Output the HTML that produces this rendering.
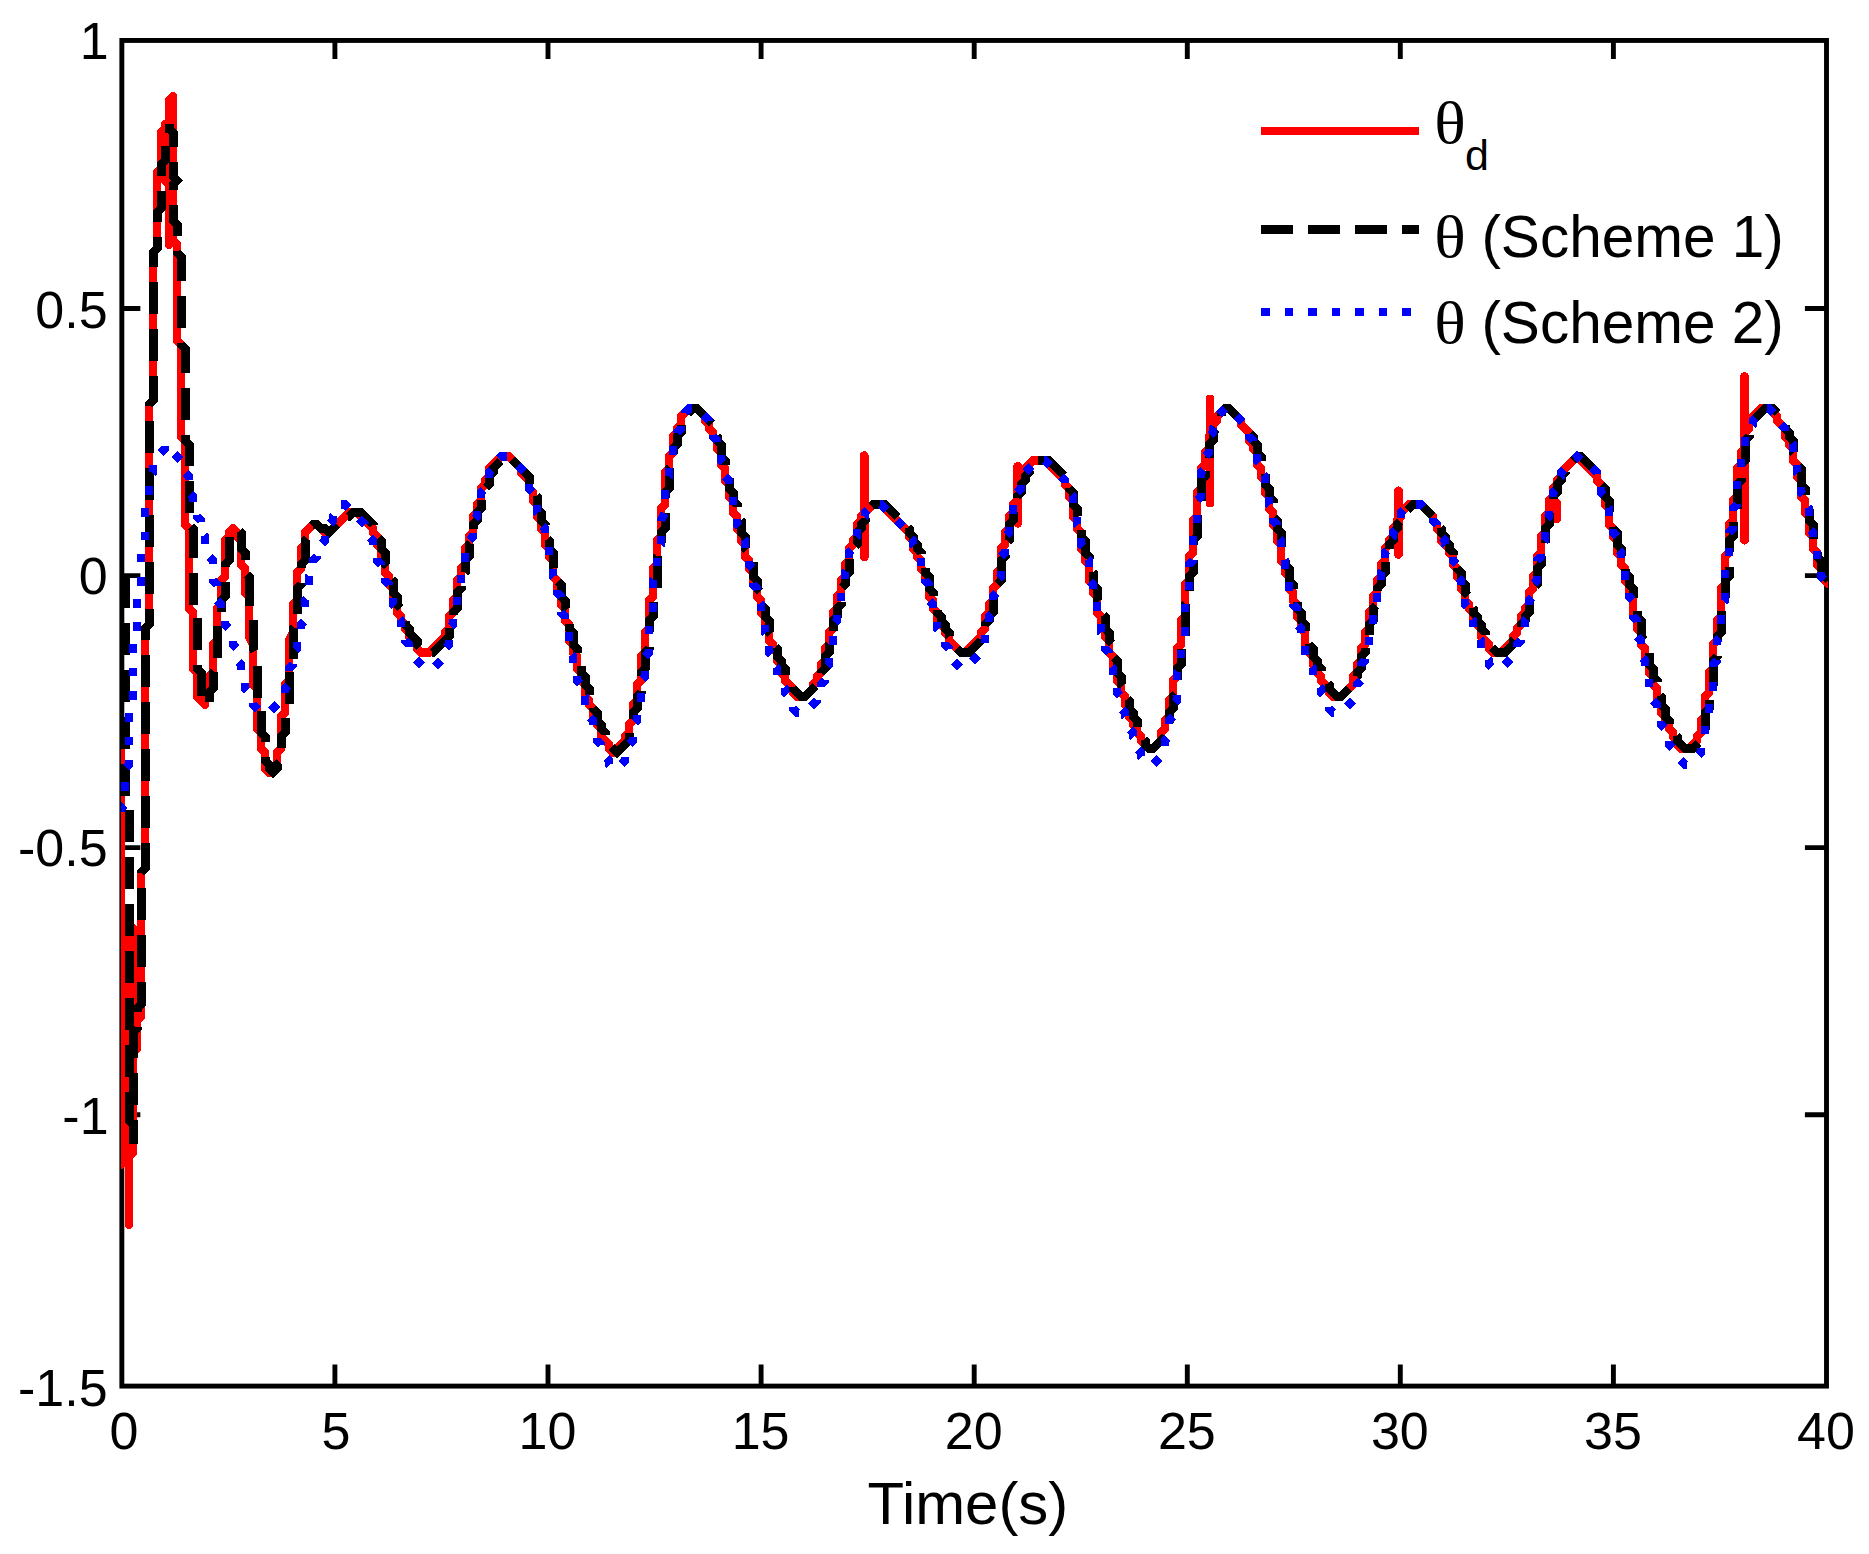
<!DOCTYPE html>
<html lang="en">
<head>
<meta charset="utf-8">
<title>Tracking performance</title>
<style>
html,body{margin:0;padding:0;background:#fff;}
body{width:1869px;height:1554px;overflow:hidden;}
svg{display:block;}
</style>
</head>
<body>
<svg width="1869" height="1554" viewBox="0 0 1869 1554">
<rect width="1869" height="1554" fill="#fff"/>
<defs><clipPath id="ax"><rect x="121" y="38" width="1707" height="1350"/></clipPath></defs>
<g stroke="#000" stroke-width="4.9" fill="none" stroke-linecap="butt">
<rect x="121.85" y="40.45" width="1704.65" height="1345.65"/>
<path d="M334.9,1386.1 V1364.5 M334.9,40.45 V59.05"/>
<path d="M548.0,1386.1 V1364.5 M548.0,40.45 V59.05"/>
<path d="M761.1,1386.1 V1364.5 M761.1,40.45 V59.05"/>
<path d="M974.2,1386.1 V1364.5 M974.2,40.45 V59.05"/>
<path d="M1187.3,1386.1 V1364.5 M1187.3,40.45 V59.05"/>
<path d="M1400.3,1386.1 V1364.5 M1400.3,40.45 V59.05"/>
<path d="M1613.4,1386.1 V1364.5 M1613.4,40.45 V59.05"/>
<path d="M121.85,308.5 H140.35 M1826.5,308.5 H1804.9"/>
<path d="M121.85,575.6 H140.35 M1826.5,575.6 H1804.9"/>
<path d="M121.85,847.6 H140.35 M1826.5,847.6 H1804.9"/>
<path d="M121.85,1114.7 H140.35 M1826.5,1114.7 H1804.9"/>
</g>
<g clip-path="url(#ax)" fill="none" shape-rendering="crispEdges">
<path d="M121,744.4 L121,1164.4 L121,1136.4 L125,1132.4 L125,1016.4 L129,1012.4 L129,924.4 L129,1224.4 L129,1156.4 L133,1152.4 L133,928.4 L133,1060.4 L133,1052.4 L137,1048.4 L137,1020.4 L141,1016.4 L141,872.4 L145,868.4 L145,628.4 L149,624.4 L149,404.4 L153,400.4 L153,252.4 L157,248.4 L157,172.4 L161,168.4 L161,132.4 L165,128.4 L165,124.4 L165,180.4 L169,184.4 L169,244.4 L169,100.4 L173,96.4 L173,240.4 L177,244.4 L177,340.4 L181,344.4 L181,436.4 L185,440.4 L185,524.4 L189,528.4 L189,608.4 L193,612.4 L193,668.4 L197,672.4 L197,696.4 L205,704.4 L205,700.4 L209,696.4 L209,676.4 L213,672.4 L213,644.4 L217,640.4 L217,608.4 L221,604.4 L221,580.4 L225,576.4 L225,540.4 L229,536.4 L229,532.4 L233,528.4 L237,532.4 L237,536.4 L241,540.4 L241,564.4 L245,568.4 L245,592.4 L249,596.4 L249,636.4 L253,644.4 L253,684.4 L257,688.4 L257,728.4 L261,732.4 L261,748.4 L265,752.4 L265,768.4 L269,772.4 L277,764.4 L277,752.4 L281,748.4 L281,716.4 L285,712.4 L285,684.4 L289,680.4 L289,640.4 L293,632.4 L293,604.4 L297,600.4 L297,572.4 L301,568.4 L301,548.4 L305,544.4 L305,532.4 L313,524.4 L317,524.4 L325,532.4 L329,532.4 L349,512.4 L357,512.4 L373,528.4 L373,532.4 L377,536.4 L377,544.4 L381,548.4 L381,556.4 L385,560.4 L385,572.4 L389,576.4 L389,584.4 L393,588.4 L393,600.4 L397,604.4 L397,612.4 L401,616.4 L401,620.4 L405,624.4 L405,628.4 L409,632.4 L409,636.4 L417,644.4 L417,648.4 L421,652.4 L429,652.4 L445,636.4 L445,632.4 L449,628.4 L449,616.4 L453,612.4 L453,600.4 L457,596.4 L457,580.4 L461,576.4 L461,568.4 L465,564.4 L465,548.4 L469,544.4 L469,536.4 L473,532.4 L473,516.4 L477,512.4 L477,504.4 L481,500.4 L481,488.4 L485,484.4 L485,480.4 L489,476.4 L489,468.4 L501,456.4 L509,456.4 L521,468.4 L521,472.4 L529,480.4 L529,488.4 L533,492.4 L533,500.4 L537,504.4 L537,516.4 L541,520.4 L541,528.4 L545,532.4 L545,544.4 L549,548.4 L549,556.4 L553,560.4 L553,576.4 L557,580.4 L557,588.4 L561,592.4 L561,604.4 L565,608.4 L565,620.4 L569,624.4 L569,640.4 L573,644.4 L573,652.4 L577,656.4 L577,668.4 L581,672.4 L581,680.4 L585,684.4 L585,696.4 L589,700.4 L589,704.4 L593,708.4 L593,716.4 L597,720.4 L597,724.4 L601,728.4 L601,736.4 L609,744.4 L609,748.4 L613,752.4 L625,740.4 L625,736.4 L629,732.4 L629,724.4 L633,720.4 L633,704.4 L637,700.4 L637,684.4 L641,680.4 L641,656.4 L645,652.4 L645,632.4 L649,628.4 L649,600.4 L653,596.4 L653,568.4 L657,564.4 L657,540.4 L661,536.4 L661,508.4 L665,504.4 L665,472.4 L669,468.4 L669,456.4 L673,452.4 L673,436.4 L677,432.4 L677,428.4 L681,424.4 L681,416.4 L689,408.4 L697,408.4 L705,416.4 L705,420.4 L709,424.4 L709,428.4 L713,432.4 L713,436.4 L717,440.4 L717,448.4 L721,452.4 L721,464.4 L725,468.4 L725,480.4 L729,484.4 L729,496.4 L733,500.4 L733,512.4 L737,516.4 L737,528.4 L741,532.4 L741,540.4 L745,544.4 L745,556.4 L749,560.4 L749,568.4 L753,572.4 L753,584.4 L757,588.4 L757,596.4 L761,600.4 L761,612.4 L765,616.4 L765,624.4 L769,628.4 L769,640.4 L773,644.4 L773,648.4 L777,652.4 L777,660.4 L781,664.4 L781,672.4 L785,676.4 L785,680.4 L793,688.4 L793,692.4 L797,696.4 L805,696.4 L813,688.4 L813,684.4 L817,680.4 L817,676.4 L821,672.4 L821,664.4 L825,660.4 L825,648.4 L829,644.4 L829,632.4 L833,628.4 L833,612.4 L837,608.4 L837,596.4 L841,592.4 L841,580.4 L845,576.4 L845,564.4 L849,560.4 L849,548.4 L853,544.4 L853,540.4 L857,536.4 L857,524.4 L861,520.4 L861,516.4 L873,504.4 L881,504.4 L909,532.4 L909,536.4 L913,540.4 L913,548.4 L917,552.4 L917,556.4 L921,560.4 L921,568.4 L925,572.4 L925,580.4 L929,584.4 L929,596.4 L933,600.4 L933,608.4 L937,612.4 L937,620.4 L945,628.4 L945,632.4 L949,636.4 L949,640.4 L961,652.4 L965,652.4 L981,636.4 L981,632.4 L985,628.4 L985,616.4 L989,612.4 L989,604.4 L993,600.4 L993,588.4 L997,584.4 L997,572.4 L1001,568.4 L1001,548.4 L1005,544.4 L1005,532.4 L1009,528.4 L1009,516.4 L1013,512.4 L1013,504.4 L1017,500.4 L1017,488.4 L1021,484.4 L1021,480.4 L1025,476.4 L1025,468.4 L1033,460.4 L1045,460.4 L1065,480.4 L1065,484.4 L1069,488.4 L1069,496.4 L1073,500.4 L1073,516.4 L1077,520.4 L1077,528.4 L1081,532.4 L1081,548.4 L1085,552.4 L1085,560.4 L1089,564.4 L1089,580.4 L1093,584.4 L1093,592.4 L1097,596.4 L1097,612.4 L1101,616.4 L1101,624.4 L1105,628.4 L1105,636.4 L1109,640.4 L1109,652.4 L1113,656.4 L1113,668.4 L1117,672.4 L1117,680.4 L1121,684.4 L1121,692.4 L1125,696.4 L1125,704.4 L1129,708.4 L1129,716.4 L1133,720.4 L1133,724.4 L1137,728.4 L1137,732.4 L1141,736.4 L1141,740.4 L1149,748.4 L1153,748.4 L1161,740.4 L1161,732.4 L1165,728.4 L1165,720.4 L1169,716.4 L1169,700.4 L1173,696.4 L1173,680.4 L1177,676.4 L1177,648.4 L1181,644.4 L1181,620.4 L1185,616.4 L1185,584.4 L1189,580.4 L1189,556.4 L1193,552.4 L1193,520.4 L1197,516.4 L1197,492.4 L1201,488.4 L1201,468.4 L1205,464.4 L1205,452.4 L1209,448.4 L1209,436.4 L1213,432.4 L1213,424.4 L1217,420.4 L1217,416.4 L1225,408.4 L1229,408.4 L1241,420.4 L1241,424.4 L1249,432.4 L1249,440.4 L1253,444.4 L1253,448.4 L1257,452.4 L1257,464.4 L1261,468.4 L1261,476.4 L1265,480.4 L1265,492.4 L1269,496.4 L1269,508.4 L1273,512.4 L1273,524.4 L1277,528.4 L1277,540.4 L1281,544.4 L1281,560.4 L1285,564.4 L1285,572.4 L1289,576.4 L1289,588.4 L1293,592.4 L1293,600.4 L1297,604.4 L1297,616.4 L1301,620.4 L1301,628.4 L1305,632.4 L1305,644.4 L1309,648.4 L1309,652.4 L1313,656.4 L1313,664.4 L1317,668.4 L1317,672.4 L1321,676.4 L1321,680.4 L1329,688.4 L1329,692.4 L1333,696.4 L1341,696.4 L1353,684.4 L1353,676.4 L1357,672.4 L1357,664.4 L1361,660.4 L1361,648.4 L1365,644.4 L1365,632.4 L1369,628.4 L1369,612.4 L1373,608.4 L1373,596.4 L1377,592.4 L1377,580.4 L1381,576.4 L1381,564.4 L1385,560.4 L1385,548.4 L1389,544.4 L1389,540.4 L1393,536.4 L1393,528.4 L1397,524.4 L1397,520.4 L1401,516.4 L1401,512.4 L1409,504.4 L1421,504.4 L1433,516.4 L1433,520.4 L1437,524.4 L1437,528.4 L1441,532.4 L1441,540.4 L1449,548.4 L1449,552.4 L1453,556.4 L1453,564.4 L1457,568.4 L1457,576.4 L1461,580.4 L1461,588.4 L1465,592.4 L1465,600.4 L1469,604.4 L1469,608.4 L1473,612.4 L1473,620.4 L1481,628.4 L1481,636.4 L1489,644.4 L1489,648.4 L1493,652.4 L1501,652.4 L1513,640.4 L1513,636.4 L1517,632.4 L1517,628.4 L1521,624.4 L1521,616.4 L1525,612.4 L1525,608.4 L1529,604.4 L1529,592.4 L1533,588.4 L1533,576.4 L1537,572.4 L1537,556.4 L1541,552.4 L1541,536.4 L1545,532.4 L1545,516.4 L1549,512.4 L1549,500.4 L1553,496.4 L1553,488.4 L1557,484.4 L1557,480.4 L1561,476.4 L1561,472.4 L1577,456.4 L1597,476.4 L1597,480.4 L1601,484.4 L1601,492.4 L1605,496.4 L1605,504.4 L1609,508.4 L1609,524.4 L1613,528.4 L1613,536.4 L1617,540.4 L1617,552.4 L1621,556.4 L1621,564.4 L1625,568.4 L1625,580.4 L1629,584.4 L1629,592.4 L1633,596.4 L1633,612.4 L1637,616.4 L1637,628.4 L1641,632.4 L1641,644.4 L1645,648.4 L1645,656.4 L1649,660.4 L1649,672.4 L1653,676.4 L1653,684.4 L1657,688.4 L1657,700.4 L1661,704.4 L1661,712.4 L1665,716.4 L1665,720.4 L1669,724.4 L1669,728.4 L1673,732.4 L1673,736.4 L1677,740.4 L1677,744.4 L1681,748.4 L1689,748.4 L1697,740.4 L1697,736.4 L1701,732.4 L1701,720.4 L1705,716.4 L1705,696.4 L1709,692.4 L1709,672.4 L1713,668.4 L1713,644.4 L1717,640.4 L1717,620.4 L1721,616.4 L1721,588.4 L1725,584.4 L1725,556.4 L1729,552.4 L1729,524.4 L1733,520.4 L1733,500.4 L1737,496.4 L1737,468.4 L1741,464.4 L1741,452.4 L1745,448.4 L1745,432.4 L1749,428.4 L1749,424.4 L1753,420.4 L1753,416.4 L1761,408.4 L1769,408.4 L1777,416.4 L1777,420.4 L1785,428.4 L1785,436.4 L1789,440.4 L1789,444.4 L1793,448.4 L1793,460.4 L1797,464.4 L1797,476.4 L1801,480.4 L1801,496.4 L1805,500.4 L1805,512.4 L1809,516.4 L1809,532.4 L1813,536.4 L1813,548.4 L1817,552.4 L1817,564.4 L1821,568.4 L1821,572.4 L1825,576.4 L1825,580.4 L1829,584.4" stroke="#f00" stroke-width="8.8" stroke-linejoin="round" stroke-linecap="round"/>
<path d="M864.3,455.6 V557.1" stroke="#f00" stroke-width="8.8" stroke-linecap="round"/>
<path d="M1017.6,466.4 V523.3" stroke="#f00" stroke-width="8.8" stroke-linecap="round"/>
<path d="M1210,398.9 V503" stroke="#f00" stroke-width="8.8" stroke-linecap="round"/>
<path d="M1398.4,490.8 V554.4" stroke="#f00" stroke-width="8.8" stroke-linecap="round"/>
<path d="M1556.5,503 V519" stroke="#f00" stroke-width="8.8" stroke-linecap="round"/>
<path d="M1744.4,376.6 V540.2" stroke="#f00" stroke-width="8.8" stroke-linecap="round"/>
<path d="M125,576.4 L125,800.4 L129,804.4 L129,1120.4 L133,1124.4 L133,1144.4 L133,1032.4 L137,1028.4 L137,1008.4 L141,1004.4 L141,872.4 L145,868.4 L145,628.4 L149,624.4 L149,404.4 L153,400.4 L153,252.4 L157,248.4 L157,212.4 L161,208.4 L161,164.4 L165,160.4 L165,140.4 L169,136.4 L169,124.4 L169,128.4 L173,132.4 L173,176.4 L177,180.4 L173,184.4 L173,220.4 L177,224.4 L177,252.4 L181,256.4 L181,344.4 L185,348.4 L185,440.4 L189,444.4 L189,524.4 L193,528.4 L193,612.4 L197,616.4 L197,668.4 L201,672.4 L201,696.4 L209,704.4 L209,692.4 L213,688.4 L213,672.4 L217,668.4 L217,624.4 L221,620.4 L221,600.4 L225,596.4 L225,564.4 L229,560.4 L229,536.4 L237,528.4 L241,532.4 L241,548.4 L245,552.4 L245,572.4 L249,576.4 L249,608.4 L253,616.4 L253,648.4 L257,656.4 L257,704.4 L261,708.4 L261,732.4 L265,736.4 L265,760.4 L269,764.4 L269,768.4 L273,772.4 L277,768.4 L277,764.4 L281,760.4 L281,736.4 L285,732.4 L285,708.4 L289,704.4 L289,664.4 L293,660.4 L293,628.4 L297,624.4 L297,588.4 L301,584.4 L301,564.4 L305,560.4 L305,540.4 L309,536.4 L309,528.4 L313,524.4 L317,524.4 L321,528.4 L325,528.4 L329,532.4 L345,516.4 L349,516.4 L353,512.4 L361,512.4 L373,524.4 L373,528.4 L377,532.4 L377,536.4 L381,540.4 L381,548.4 L385,552.4 L385,564.4 L389,568.4 L389,576.4 L393,580.4 L393,592.4 L397,596.4 L397,604.4 L401,608.4 L401,616.4 L405,620.4 L405,624.4 L409,628.4 L409,632.4 L417,640.4 L417,644.4 L425,652.4 L433,652.4 L449,636.4 L449,624.4 L453,620.4 L453,612.4 L457,608.4 L457,592.4 L461,588.4 L461,576.4 L465,572.4 L465,560.4 L469,556.4 L469,544.4 L473,540.4 L473,524.4 L477,520.4 L477,512.4 L481,508.4 L481,496.4 L485,492.4 L485,488.4 L489,484.4 L489,476.4 L493,472.4 L493,468.4 L505,456.4 L509,456.4 L529,476.4 L529,484.4 L533,488.4 L533,492.4 L537,496.4 L537,508.4 L541,512.4 L541,520.4 L545,524.4 L545,536.4 L549,540.4 L549,548.4 L553,552.4 L553,568.4 L557,572.4 L557,580.4 L561,584.4 L561,596.4 L565,600.4 L565,608.4 L569,612.4 L569,628.4 L573,632.4 L573,644.4 L577,648.4 L577,660.4 L581,664.4 L581,672.4 L585,676.4 L585,684.4 L589,688.4 L589,696.4 L593,700.4 L593,708.4 L597,712.4 L597,720.4 L601,724.4 L601,728.4 L605,732.4 L605,736.4 L609,740.4 L609,744.4 L617,752.4 L629,740.4 L629,732.4 L633,728.4 L633,712.4 L637,708.4 L637,696.4 L641,692.4 L641,672.4 L645,668.4 L645,652.4 L649,648.4 L649,620.4 L653,616.4 L653,592.4 L657,588.4 L657,556.4 L661,552.4 L661,532.4 L665,528.4 L665,492.4 L669,488.4 L669,468.4 L673,464.4 L673,448.4 L677,444.4 L677,436.4 L681,432.4 L681,424.4 L685,420.4 L685,416.4 L693,408.4 L697,408.4 L713,424.4 L713,432.4 L717,436.4 L717,440.4 L721,444.4 L721,456.4 L725,460.4 L725,468.4 L729,472.4 L729,488.4 L733,492.4 L733,500.4 L737,504.4 L737,516.4 L741,520.4 L741,532.4 L745,536.4 L745,548.4 L749,552.4 L749,556.4 L753,560.4 L753,576.4 L757,580.4 L757,588.4 L761,592.4 L761,604.4 L765,608.4 L765,616.4 L769,620.4 L769,632.4 L773,636.4 L773,644.4 L777,648.4 L777,656.4 L781,660.4 L781,664.4 L785,668.4 L785,676.4 L793,684.4 L793,688.4 L801,696.4 L805,696.4 L817,684.4 L817,680.4 L821,676.4 L821,672.4 L825,668.4 L825,656.4 L829,652.4 L829,644.4 L833,640.4 L833,620.4 L837,616.4 L837,608.4 L841,604.4 L841,588.4 L845,584.4 L845,576.4 L849,572.4 L849,556.4 L853,552.4 L853,548.4 L857,544.4 L857,532.4 L861,528.4 L861,524.4 L865,520.4 L865,516.4 L869,512.4 L869,508.4 L873,504.4 L885,504.4 L909,528.4 L909,532.4 L913,536.4 L913,540.4 L917,544.4 L917,548.4 L921,552.4 L921,560.4 L925,564.4 L925,572.4 L929,576.4 L929,588.4 L933,592.4 L933,600.4 L937,604.4 L937,612.4 L941,616.4 L941,620.4 L945,624.4 L945,628.4 L949,632.4 L949,636.4 L957,644.4 L957,648.4 L961,652.4 L969,652.4 L981,640.4 L981,636.4 L985,632.4 L985,624.4 L989,620.4 L989,616.4 L993,612.4 L993,596.4 L997,592.4 L997,584.4 L1001,580.4 L1001,560.4 L1005,556.4 L1005,544.4 L1009,540.4 L1009,524.4 L1013,520.4 L1013,512.4 L1017,508.4 L1017,496.4 L1021,492.4 L1021,484.4 L1025,480.4 L1025,476.4 L1029,472.4 L1029,468.4 L1037,460.4 L1049,460.4 L1065,476.4 L1065,480.4 L1069,484.4 L1069,488.4 L1073,492.4 L1073,504.4 L1077,508.4 L1077,516.4 L1081,520.4 L1081,536.4 L1085,540.4 L1085,552.4 L1089,556.4 L1089,568.4 L1093,572.4 L1093,584.4 L1097,588.4 L1097,600.4 L1101,604.4 L1101,612.4 L1105,616.4 L1105,628.4 L1109,632.4 L1109,640.4 L1113,644.4 L1113,656.4 L1117,660.4 L1117,672.4 L1121,676.4 L1121,684.4 L1125,688.4 L1125,696.4 L1129,700.4 L1129,708.4 L1133,712.4 L1133,716.4 L1137,720.4 L1137,728.4 L1141,732.4 L1141,736.4 L1145,740.4 L1145,744.4 L1149,748.4 L1153,748.4 L1165,736.4 L1165,728.4 L1169,724.4 L1169,712.4 L1173,708.4 L1173,696.4 L1177,692.4 L1177,668.4 L1181,664.4 L1181,640.4 L1185,636.4 L1185,604.4 L1189,600.4 L1189,576.4 L1193,572.4 L1193,540.4 L1197,536.4 L1197,512.4 L1201,508.4 L1201,480.4 L1205,476.4 L1205,464.4 L1209,460.4 L1209,444.4 L1213,440.4 L1213,432.4 L1217,428.4 L1217,420.4 L1221,416.4 L1221,412.4 L1225,408.4 L1229,408.4 L1249,428.4 L1249,432.4 L1253,436.4 L1253,440.4 L1257,444.4 L1257,452.4 L1261,456.4 L1261,468.4 L1265,472.4 L1265,484.4 L1269,488.4 L1269,496.4 L1273,500.4 L1273,516.4 L1277,520.4 L1277,528.4 L1281,532.4 L1281,548.4 L1285,552.4 L1285,564.4 L1289,568.4 L1289,580.4 L1293,584.4 L1293,592.4 L1297,596.4 L1297,608.4 L1301,612.4 L1301,620.4 L1305,624.4 L1305,636.4 L1309,640.4 L1309,644.4 L1313,648.4 L1313,656.4 L1317,660.4 L1317,664.4 L1321,668.4 L1321,676.4 L1329,684.4 L1329,688.4 L1337,696.4 L1341,696.4 L1353,684.4 L1353,680.4 L1357,676.4 L1357,672.4 L1361,668.4 L1361,656.4 L1365,652.4 L1365,644.4 L1369,640.4 L1369,624.4 L1373,620.4 L1373,608.4 L1377,604.4 L1377,588.4 L1381,584.4 L1381,576.4 L1385,572.4 L1385,556.4 L1389,552.4 L1389,544.4 L1393,540.4 L1393,532.4 L1397,528.4 L1397,524.4 L1401,520.4 L1401,516.4 L1413,504.4 L1421,504.4 L1437,520.4 L1437,524.4 L1441,528.4 L1441,532.4 L1445,536.4 L1445,540.4 L1449,544.4 L1449,548.4 L1453,552.4 L1453,556.4 L1457,560.4 L1457,568.4 L1461,572.4 L1461,580.4 L1465,584.4 L1465,592.4 L1469,596.4 L1469,604.4 L1473,608.4 L1473,612.4 L1477,616.4 L1477,620.4 L1481,624.4 L1481,628.4 L1485,632.4 L1485,636.4 L1489,640.4 L1489,644.4 L1497,652.4 L1505,652.4 L1513,644.4 L1513,640.4 L1521,632.4 L1521,624.4 L1525,620.4 L1525,616.4 L1529,612.4 L1529,600.4 L1533,596.4 L1533,588.4 L1537,584.4 L1537,568.4 L1541,564.4 L1541,548.4 L1545,544.4 L1545,528.4 L1549,524.4 L1549,512.4 L1553,508.4 L1553,496.4 L1557,492.4 L1557,484.4 L1561,480.4 L1561,476.4 L1565,472.4 L1565,468.4 L1577,456.4 L1581,456.4 L1601,476.4 L1601,484.4 L1605,488.4 L1605,496.4 L1609,500.4 L1609,512.4 L1613,516.4 L1613,528.4 L1617,532.4 L1617,544.4 L1621,548.4 L1621,556.4 L1625,560.4 L1625,572.4 L1629,576.4 L1629,584.4 L1633,588.4 L1633,600.4 L1637,604.4 L1637,616.4 L1641,620.4 L1641,636.4 L1645,640.4 L1645,648.4 L1649,652.4 L1649,664.4 L1653,668.4 L1653,676.4 L1657,680.4 L1657,692.4 L1661,696.4 L1661,704.4 L1665,708.4 L1665,716.4 L1669,720.4 L1669,724.4 L1673,728.4 L1673,732.4 L1677,736.4 L1677,740.4 L1685,748.4 L1693,748.4 L1701,740.4 L1701,732.4 L1705,728.4 L1705,712.4 L1709,708.4 L1709,688.4 L1713,684.4 L1713,660.4 L1717,656.4 L1717,636.4 L1721,632.4 L1721,608.4 L1725,604.4 L1725,580.4 L1729,576.4 L1729,540.4 L1733,536.4 L1733,516.4 L1737,512.4 L1737,484.4 L1741,480.4 L1741,464.4 L1745,460.4 L1745,440.4 L1749,436.4 L1749,432.4 L1753,428.4 L1753,420.4 L1765,408.4 L1773,408.4 L1781,416.4 L1781,420.4 L1785,424.4 L1785,428.4 L1789,432.4 L1789,436.4 L1793,440.4 L1793,452.4 L1797,456.4 L1797,464.4 L1801,468.4 L1801,484.4 L1805,488.4 L1805,500.4 L1809,504.4 L1809,520.4 L1813,524.4 L1813,540.4 L1817,544.4 L1817,556.4 L1821,560.4 L1821,568.4 L1825,572.4 L1825,576.4 L1829,580.4 L1829,584.4" stroke="#000" stroke-width="9" stroke-linejoin="miter" stroke-dasharray="32 15"/>
<path d="M121,812.4 L121,808.4 L125,804.4 L125,768.4 L129,764.4 L129,708.4 L133,704.4 L133,640.4 L137,636.4 L137,596.4 L141,592.4 L141,548.4 L145,544.4 L145,500.4 L149,496.4 L149,476.4 L153,472.4 L153,464.4 L157,460.4 L157,456.4 L165,448.4 L165,444.4 L181,460.4 L181,464.4 L185,468.4 L185,472.4 L189,476.4 L189,492.4 L193,496.4 L193,504.4 L197,508.4 L197,516.4 L201,520.4 L201,532.4 L205,536.4 L205,544.4 L209,548.4 L209,556.4 L213,560.4 L213,580.4 L217,584.4 L217,600.4 L221,604.4 L221,612.4 L225,616.4 L225,624.4 L229,628.4 L229,636.4 L233,640.4 L233,644.4 L237,648.4 L237,660.4 L241,664.4 L241,672.4 L245,676.4 L245,688.4 L249,692.4 L249,696.4 L253,700.4 L253,704.4 L261,712.4 L269,712.4 L285,696.4 L285,688.4 L289,684.4 L289,668.4 L293,664.4 L293,652.4 L297,648.4 L297,640.4 L301,636.4 L301,624.4 L305,620.4 L305,600.4 L309,596.4 L309,576.4 L313,572.4 L313,560.4 L317,556.4 L317,552.4 L321,548.4 L321,544.4 L325,540.4 L325,532.4 L329,528.4 L329,524.4 L333,520.4 L333,516.4 L337,512.4 L337,508.4 L341,504.4 L345,504.4 L365,524.4 L365,528.4 L369,532.4 L369,536.4 L373,540.4 L373,552.4 L377,556.4 L377,560.4 L381,564.4 L381,568.4 L385,572.4 L385,580.4 L389,584.4 L389,588.4 L393,592.4 L393,604.4 L397,608.4 L397,616.4 L401,620.4 L401,632.4 L405,636.4 L405,640.4 L409,644.4 L409,648.4 L413,652.4 L413,656.4 L425,668.4 L433,668.4 L441,660.4 L441,656.4 L445,652.4 L445,648.4 L449,644.4 L449,628.4 L453,624.4 L453,612.4 L457,608.4 L457,588.4 L461,584.4 L461,572.4 L465,568.4 L465,552.4 L469,548.4 L469,540.4 L473,536.4 L473,520.4 L477,516.4 L477,508.4 L481,504.4 L481,492.4 L485,488.4 L485,484.4 L489,480.4 L489,472.4 L493,468.4 L493,464.4 L501,456.4 L509,456.4 L525,472.4 L525,476.4 L529,480.4 L529,488.4 L533,492.4 L533,496.4 L537,500.4 L537,512.4 L541,516.4 L541,524.4 L545,528.4 L545,540.4 L549,544.4 L549,556.4 L553,560.4 L553,576.4 L557,580.4 L557,592.4 L561,596.4 L561,612.4 L565,616.4 L565,628.4 L569,632.4 L569,652.4 L573,656.4 L573,664.4 L577,668.4 L577,680.4 L581,684.4 L581,692.4 L585,696.4 L585,708.4 L589,712.4 L589,716.4 L593,720.4 L593,728.4 L597,732.4 L597,740.4 L601,744.4 L601,748.4 L605,752.4 L605,756.4 L609,760.4 L609,764.4 L613,768.4 L617,768.4 L625,760.4 L625,756.4 L629,752.4 L629,744.4 L633,740.4 L633,724.4 L637,720.4 L637,708.4 L641,704.4 L641,680.4 L645,676.4 L645,656.4 L649,652.4 L649,620.4 L653,612.4 L653,580.4 L657,576.4 L657,548.4 L661,544.4 L661,520.4 L665,512.4 L665,480.4 L669,476.4 L669,460.4 L673,456.4 L673,440.4 L677,436.4 L677,432.4 L681,428.4 L681,420.4 L685,416.4 L685,412.4 L689,408.4 L697,408.4 L709,420.4 L709,424.4 L713,428.4 L713,436.4 L717,440.4 L717,444.4 L721,448.4 L721,460.4 L725,464.4 L725,476.4 L729,480.4 L729,492.4 L733,496.4 L733,508.4 L737,512.4 L737,524.4 L741,528.4 L741,536.4 L745,540.4 L745,552.4 L749,556.4 L749,564.4 L753,568.4 L753,584.4 L757,588.4 L757,600.4 L761,604.4 L761,620.4 L765,624.4 L765,632.4 L769,636.4 L769,652.4 L773,656.4 L773,664.4 L777,668.4 L777,676.4 L781,680.4 L781,684.4 L785,688.4 L785,692.4 L789,696.4 L789,700.4 L793,704.4 L793,708.4 L797,712.4 L805,712.4 L817,700.4 L817,692.4 L821,688.4 L821,684.4 L825,680.4 L825,668.4 L829,664.4 L829,652.4 L833,648.4 L833,624.4 L837,620.4 L837,608.4 L841,604.4 L841,588.4 L845,584.4 L845,572.4 L849,568.4 L849,552.4 L853,548.4 L853,540.4 L857,536.4 L857,528.4 L861,524.4 L861,520.4 L865,516.4 L865,512.4 L873,504.4 L881,504.4 L909,532.4 L909,536.4 L913,540.4 L913,544.4 L917,548.4 L917,552.4 L921,556.4 L921,568.4 L925,572.4 L925,580.4 L929,584.4 L929,600.4 L933,604.4 L933,612.4 L937,616.4 L937,628.4 L941,632.4 L941,636.4 L945,640.4 L945,644.4 L949,648.4 L949,652.4 L953,656.4 L953,660.4 L961,668.4 L965,668.4 L981,652.4 L981,648.4 L985,644.4 L985,632.4 L989,628.4 L989,616.4 L993,612.4 L993,596.4 L997,592.4 L997,580.4 L1001,576.4 L1001,556.4 L1005,552.4 L1005,536.4 L1009,532.4 L1009,520.4 L1013,516.4 L1013,504.4 L1017,500.4 L1017,492.4 L1021,488.4 L1021,480.4 L1025,476.4 L1025,472.4 L1037,460.4 L1045,460.4 L1065,480.4 L1065,484.4 L1069,488.4 L1069,492.4 L1073,496.4 L1073,512.4 L1077,516.4 L1077,524.4 L1081,528.4 L1081,544.4 L1085,548.4 L1085,556.4 L1089,560.4 L1089,580.4 L1093,584.4 L1093,596.4 L1097,600.4 L1097,616.4 L1101,620.4 L1101,632.4 L1105,636.4 L1105,648.4 L1109,652.4 L1109,664.4 L1113,668.4 L1113,680.4 L1117,684.4 L1117,692.4 L1121,696.4 L1121,708.4 L1125,712.4 L1125,716.4 L1129,720.4 L1129,728.4 L1133,732.4 L1133,736.4 L1137,740.4 L1137,748.4 L1141,752.4 L1141,756.4 L1149,764.4 L1153,764.4 L1161,756.4 L1161,752.4 L1165,748.4 L1165,740.4 L1169,736.4 L1169,720.4 L1173,716.4 L1173,704.4 L1177,700.4 L1177,672.4 L1181,668.4 L1181,644.4 L1185,636.4 L1185,600.4 L1189,596.4 L1189,564.4 L1193,560.4 L1193,528.4 L1197,524.4 L1197,500.4 L1201,496.4 L1201,472.4 L1205,468.4 L1205,456.4 L1209,452.4 L1209,436.4 L1213,432.4 L1213,428.4 L1217,424.4 L1217,416.4 L1225,408.4 L1229,408.4 L1245,424.4 L1245,428.4 L1249,432.4 L1249,436.4 L1253,440.4 L1253,444.4 L1257,448.4 L1257,460.4 L1261,464.4 L1261,472.4 L1265,476.4 L1265,488.4 L1269,492.4 L1269,504.4 L1273,508.4 L1273,520.4 L1277,524.4 L1277,536.4 L1281,540.4 L1281,556.4 L1285,560.4 L1285,572.4 L1289,576.4 L1289,592.4 L1293,596.4 L1293,604.4 L1297,608.4 L1297,624.4 L1301,628.4 L1301,640.4 L1305,644.4 L1305,656.4 L1309,660.4 L1309,664.4 L1313,668.4 L1313,676.4 L1317,680.4 L1317,684.4 L1321,688.4 L1321,692.4 L1325,696.4 L1325,700.4 L1329,704.4 L1329,708.4 L1333,712.4 L1341,712.4 L1353,700.4 L1353,692.4 L1357,688.4 L1357,684.4 L1361,680.4 L1361,664.4 L1365,660.4 L1365,652.4 L1369,648.4 L1369,628.4 L1373,624.4 L1373,612.4 L1377,608.4 L1377,588.4 L1381,584.4 L1381,572.4 L1385,568.4 L1385,552.4 L1389,548.4 L1389,540.4 L1393,536.4 L1393,532.4 L1397,528.4 L1397,524.4 L1401,520.4 L1401,512.4 L1409,504.4 L1421,504.4 L1433,516.4 L1433,520.4 L1437,524.4 L1437,528.4 L1441,532.4 L1441,536.4 L1445,540.4 L1445,544.4 L1449,548.4 L1449,552.4 L1453,556.4 L1453,560.4 L1457,564.4 L1457,576.4 L1461,580.4 L1461,588.4 L1465,592.4 L1465,604.4 L1469,608.4 L1469,616.4 L1473,620.4 L1473,628.4 L1477,632.4 L1477,636.4 L1481,640.4 L1481,648.4 L1485,652.4 L1485,656.4 L1489,660.4 L1489,664.4 L1493,668.4 L1501,668.4 L1513,656.4 L1513,652.4 L1517,648.4 L1517,644.4 L1521,640.4 L1521,632.4 L1525,628.4 L1525,620.4 L1529,616.4 L1529,600.4 L1533,596.4 L1533,584.4 L1537,580.4 L1537,560.4 L1541,556.4 L1541,544.4 L1545,540.4 L1545,520.4 L1549,516.4 L1549,504.4 L1553,500.4 L1553,492.4 L1557,488.4 L1557,480.4 L1561,476.4 L1561,472.4 L1577,456.4 L1581,460.4 L1585,460.4 L1597,472.4 L1597,476.4 L1601,480.4 L1601,492.4 L1605,496.4 L1605,504.4 L1609,508.4 L1609,520.4 L1613,524.4 L1613,532.4 L1617,536.4 L1617,548.4 L1621,552.4 L1621,560.4 L1625,564.4 L1625,580.4 L1629,584.4 L1629,596.4 L1633,600.4 L1633,616.4 L1637,620.4 L1637,636.4 L1641,640.4 L1641,656.4 L1645,660.4 L1645,668.4 L1649,672.4 L1649,688.4 L1653,692.4 L1653,700.4 L1657,704.4 L1657,712.4 L1661,716.4 L1661,724.4 L1665,728.4 L1665,736.4 L1669,740.4 L1669,744.4 L1673,748.4 L1673,752.4 L1685,764.4 L1689,764.4 L1701,752.4 L1701,744.4 L1705,740.4 L1705,720.4 L1709,716.4 L1709,696.4 L1713,692.4 L1713,664.4 L1717,660.4 L1717,640.4 L1721,636.4 L1721,604.4 L1725,600.4 L1725,568.4 L1729,564.4 L1729,532.4 L1733,528.4 L1733,508.4 L1737,504.4 L1737,472.4 L1741,468.4 L1741,456.4 L1745,452.4 L1745,436.4 L1749,432.4 L1749,428.4 L1753,424.4 L1753,420.4 L1765,408.4 L1769,408.4 L1781,420.4 L1781,424.4 L1785,428.4 L1785,432.4 L1789,436.4 L1789,440.4 L1793,444.4 L1793,456.4 L1797,460.4 L1797,472.4 L1801,476.4 L1801,492.4 L1805,496.4 L1805,504.4 L1809,508.4 L1809,528.4 L1813,532.4 L1813,544.4 L1817,548.4 L1817,564.4 L1821,568.4 L1821,576.4 L1825,580.4 L1825,584.4 L1829,588.4" stroke="#00f" stroke-width="8.8" stroke-linejoin="miter" stroke-dasharray="8.6 14.9"/>
</g>
<g fill="none" shape-rendering="crispEdges">
<path d="M1261,131 H1419" stroke="#f00" stroke-width="8"/>
<path d="M1261,229.5 H1419" stroke="#000" stroke-width="9" stroke-dasharray="32 15"/>
<path d="M1261,312 H1419" stroke="#00f" stroke-width="8" stroke-dasharray="8.6 14.9"/>
</g>
<g font-family="'Liberation Sans', Arial, Helvetica, sans-serif" font-size="52" fill="#000">
<text x="108.6" y="59.3" text-anchor="end">1</text>
<text x="107.6" y="328.2" text-anchor="end">0.5</text>
<text x="107.6" y="594.3" text-anchor="end">0</text>
<text x="107.6" y="865.9" text-anchor="end">-0.5</text>
<text x="108.6" y="1134.0" text-anchor="end">-1</text>
<text x="107.6" y="1405.6" text-anchor="end">-1.5</text>
<text x="124.0" y="1448.8" text-anchor="middle">0</text>
<text x="335.9" y="1448.8" text-anchor="middle">5</text>
<text x="547.5" y="1448.8" text-anchor="middle">10</text>
<text x="760.6" y="1448.8" text-anchor="middle">15</text>
<text x="973.7" y="1448.8" text-anchor="middle">20</text>
<text x="1186.8" y="1448.8" text-anchor="middle">25</text>
<text x="1399.8" y="1448.8" text-anchor="middle">30</text>
<text x="1612.9" y="1448.8" text-anchor="middle">35</text>
<text x="1826.0" y="1448.8" text-anchor="middle">40</text>
</g>
<text transform="translate(867.6,1523.8) scale(1.025,1)" font-family="'Liberation Sans', Arial, Helvetica, sans-serif" font-size="58.4" fill="#000">Time(s)</text>
<text transform="translate(1434.2,143.4) scale(1.13,1)" font-family="'Liberation Serif', 'Times New Roman', serif" font-size="58.2" fill="#000">θ</text>
<text x="1465" y="169.5" font-family="'Liberation Sans', Arial, Helvetica, sans-serif" font-size="43" fill="#000">d</text>
<text transform="translate(1434.2,257.3) scale(1.13,1)" font-family="'Liberation Serif', 'Times New Roman', serif" font-size="58.2" fill="#000">θ</text>
<text x="1481.4" y="257.3" font-family="'Liberation Sans', Arial, Helvetica, sans-serif" font-size="58.5" fill="#000">(Scheme 1)</text>
<text transform="translate(1434.2,343.0) scale(1.13,1)" font-family="'Liberation Serif', 'Times New Roman', serif" font-size="58.2" fill="#000">θ</text>
<text x="1481.4" y="343.0" font-family="'Liberation Sans', Arial, Helvetica, sans-serif" font-size="58.5" fill="#000">(Scheme 2)</text>
</svg>
</body>
</html>
